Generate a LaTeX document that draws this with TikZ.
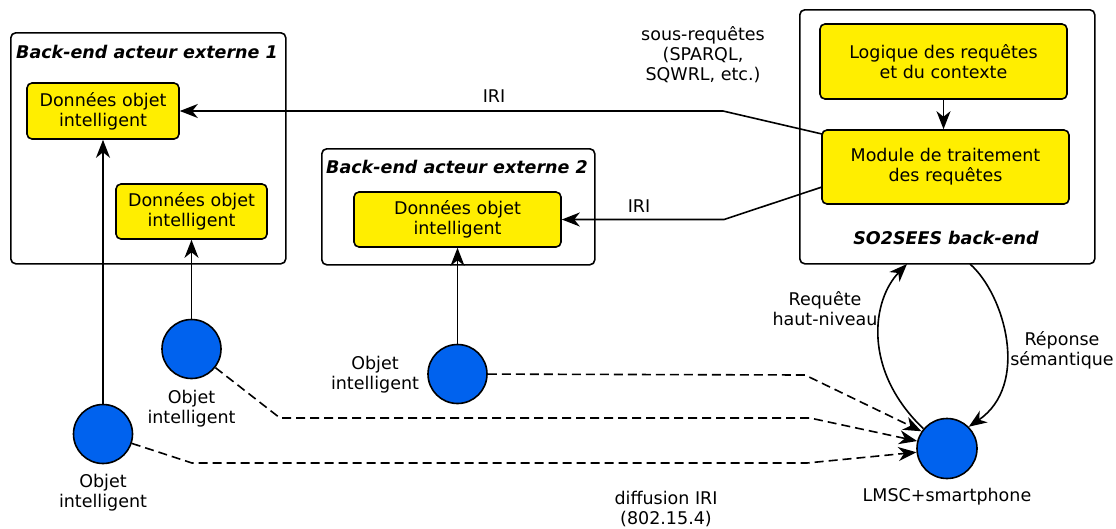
\documentclass[tikz,border=0pt]{standalone}
\usepackage{fontspec}
\setmainfont{DejaVu Sans}
\usetikzlibrary{arrows.meta,calc}
\definecolor{yfill}{RGB}{255,238,0}
\definecolor{bobj}{RGB}{0,98,238}
\begin{document}
\begin{tikzpicture}[x=1pt,y=-1pt,
  font=\fontsize{17.5}{20}\selectfont, line width=1.6pt,
  frame/.style={draw, rounded corners=5pt, inner sep=0pt, anchor=north west},
  ybox/.style={draw, fill=yfill, rounded corners=5pt, align=center, inner sep=0pt},
  obj/.style={circle, draw, fill=bobj, minimum size=59pt, inner sep=0pt},
  lbl/.style={align=center, inner sep=0pt},
  ttl/.style={inner sep=0pt, font=\fontsize{17.5}{21}\selectfont\bfseries\itshape},
  arr/.style={-{Stealth[length=18pt,width=14pt,inset=5.5pt]}},
  darr/.style={arr, dash pattern=on 9pt off 5pt}]
\useasboundingbox (0,0) rectangle (1116,528);

% frames
\node[frame, minimum width=275pt, minimum height=231pt] (f1) at (10,32) {};
\node[frame, minimum width=273pt, minimum height=116pt] (f2) at (321,148) {};
\node[frame, minimum width=295pt, minimum height=254pt] (f3) at (799,9) {};
\node[ttl] (t1) at (147,52) {Back-end acteur externe 1};
\node[ttl] (t2) at (457,167) {Back-end acteur externe 2};
\node[ttl] (t3) at (946,238) {SO2SEES back-end};

% yellow boxes
\node[ybox, minimum width=152pt, minimum height=56pt] (a1) at (103,111) {Données objet\\intelligent};
\node[ybox, minimum width=151pt, minimum height=55pt] (a2) at (191.5,211.5) {Données objet\\intelligent};
\node[ybox, minimum width=207pt, minimum height=55pt] (b) at (457.5,219.5) {Données objet\\intelligent};
\node[ybox, minimum width=247pt, minimum height=75pt] (lq) at (943.5,61.5) {Logique des requêtes\\et du contexte};
\node[ybox, minimum width=247pt, minimum height=74pt] (md) at (945.5,167) {Module de traitement\\des requêtes};

% objects
\node[obj] (c1) at (103,434) {};
\node[obj] (c2) at (191.5,349) {};
\node[obj] (c3) at (457.5,374) {};
\node[obj, minimum size=60pt] (lm) at (947,448.5) {};

% labels
\node[lbl] (l1) at (103,493) {Objet\\intelligent};
\node[lbl] (l2) at (191.5,409) {Objet\\intelligent};
\node[lbl] (l3) at (375,375) {Objet\\intelligent};
\node[lbl] (l4) at (947,497) {LMSC+smartphone};
\node[lbl] (l5) at (666,509) {diffusion IRI\\(802.15.4)};
\node[lbl] (l6) at (825,309) {Requête\\haut-niveau};
\node[lbl] (l7) at (1062,350) {Réponse\\sémantique};
\node[lbl] (l8) at (703,55) {sous-requêtes\\(SPARQL,\\SQWRL, etc.)};
\node[lbl] (iri1) at (494,96) {IRI};
\node[lbl] (iri2) at (639,206) {IRI};

% solid connectors
\draw[arr] (c1) -- (a1);
\draw[arr] (c2) -- (a2);
\draw[arr] (c3) -- (b);
\draw[arr] (lq.south) -- (lq.south |- md.north);
\coordinate (m1) at (822,134);
\coordinate (k1) at (723,111);
\draw[arr] (m1) -- (k1) -- (a1);
\coordinate (m2) at (822,187);
\coordinate (k2) at (724,219.5);
\draw[arr] (m2) -- (k2) -- (b);

% dashed connectors
\draw[darr] (c1) -- (192,463) -- (807,463) -- (lm.187);
\draw[darr] (c2) -- (280,418) -- (810,418) -- (lm.166);
\draw[darr] (c3) -- (805,375) -- (lm.146);

% curves
\coordinate (r1) at (907,264);
\coordinate (r2) at (970,264);
\draw[arr] (lm.140) .. controls (862,370) and (872,300) .. (r1);
\draw[arr] (r2) .. controls (1005,295) and (1030,385) .. (lm.45);
\end{tikzpicture}
\end{document}
